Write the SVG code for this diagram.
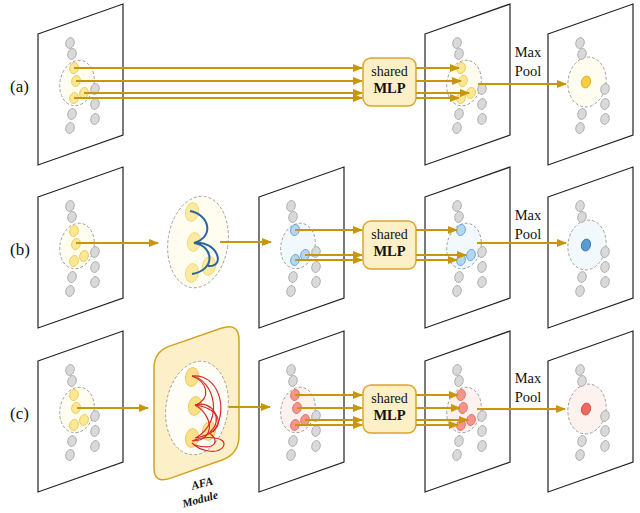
<svg xmlns="http://www.w3.org/2000/svg" xmlns:xlink="http://www.w3.org/1999/xlink" width="640" height="513" viewBox="0 0 640 513">
<style>
.panel{fill:#fff;stroke:#222;stroke-width:1.2}
.gd{fill:#d9d9d9;stroke:#a6a6a6;stroke-width:0.8}
.yd{fill:#fce794;stroke:#e8c650;stroke-width:0.8}
.bd{fill:#b4d7f1;stroke:#5b9bd5;stroke-width:0.8}
.rd{fill:#f5958c;stroke:#e06a60;stroke-width:0.8}
.ell{stroke:#9a9a9a;stroke-width:0.9;stroke-dasharray:3 2}
.ey{fill:#fffdf0}.eb{fill:#f2f9fd}.er{fill:#fdf2ee}
.mlp{fill:#fdefc6;stroke:#d9a72a;stroke-width:1.5}
.t{font-family:"Liberation Serif","Times New Roman",serif;fill:#111}
.conn line{stroke:#c8960c;stroke-width:2;marker-end:url(#ah)}
.blue path{fill:none;stroke:#2a65a0;stroke-width:2}
.red path{fill:none;stroke:#d42a2a;stroke-width:1.2}
</style>
<defs>
<marker id="ah" markerWidth="10" markerHeight="8" refX="9" refY="4" orient="auto" markerUnits="userSpaceOnUse"><path d="M0,0 L10,4 L0,8 Z" fill="#c8960c"/></marker>
<path id="pp" class="panel" d="M0,30 L85,0 L85,131 L0,161 Z"/>
<g id="grey" class="gd">
<ellipse cx="32" cy="39" rx="4.2" ry="5.5" transform="rotate(15 32 39)"/>
<ellipse cx="34" cy="50" rx="4.2" ry="5.5" transform="rotate(15 34 50)"/>
<ellipse cx="57" cy="85" rx="4.2" ry="5.5" transform="rotate(15 57 85)"/>
<ellipse cx="57" cy="100" rx="4.2" ry="5.5" transform="rotate(15 57 100)"/>
<ellipse cx="57" cy="115" rx="4.2" ry="5.5" transform="rotate(15 57 115)"/>
<ellipse cx="34" cy="110" rx="4.2" ry="5.5" transform="rotate(15 34 110)"/>
<ellipse cx="32" cy="124" rx="4.2" ry="5.5" transform="rotate(15 32 124)"/>
</g>
<g id="four">
<ellipse cx="36" cy="64" rx="4.3" ry="5.6" transform="rotate(15 36 64)"/>
<ellipse cx="38" cy="77" rx="4.3" ry="5.6" transform="rotate(15 38 77)"/>
<ellipse cx="36" cy="94" rx="4.3" ry="5.6" transform="rotate(15 36 94)"/>
<ellipse cx="46" cy="89" rx="4.3" ry="5.6" transform="rotate(15 46 89)"/>
</g>
<g id="three">
<ellipse cx="36" cy="63" rx="4.3" ry="5.6" transform="rotate(15 36 63)"/>
<ellipse cx="36" cy="93" rx="4.3" ry="5.6" transform="rotate(15 36 93)"/>
<ellipse cx="46" cy="88" rx="4.3" ry="5.6" transform="rotate(15 46 88)"/>
</g>
<ellipse id="sel" cx="39" cy="79" rx="17" ry="23" transform="rotate(12 39 79)"/>
<ellipse id="bel" cx="39" cy="78" rx="19" ry="25" transform="rotate(8 39 78)"/>
<ellipse id="cdot" cx="38" cy="78" rx="4.5" ry="6" transform="rotate(15 38 78)"/>
</defs>

<g id="labels" class="t" font-size="17">
<text x="10" y="92">(a)</text>
<text x="10" y="255">(b)</text>
<text x="10" y="419">(c)</text>
</g>

<!-- Row a -->
<g id="a1" transform="translate(38,4)"><use xlink:href="#pp"/><use xlink:href="#sel" class="ell ey"/><use xlink:href="#grey"/><use xlink:href="#four" class="yd"/></g>
<g id="a3" transform="translate(425,4)"><use xlink:href="#pp"/><use xlink:href="#sel" class="ell ey"/><use xlink:href="#grey"/><use xlink:href="#four" class="yd"/></g>
<g id="a4" transform="translate(548,4)"><use xlink:href="#pp"/><use xlink:href="#bel" class="ell ey"/><use xlink:href="#grey"/><use xlink:href="#cdot" fill="#f7cc45" stroke="#d9a520" stroke-width="0.8"/></g>
<g id="mlp-a"><rect class="mlp" x="363" y="58" width="53" height="48" rx="8"/><text class="t" x="389.5" y="76" font-size="14" text-anchor="middle">shared</text><text class="t" x="389.5" y="93" font-size="14.5" font-weight="bold" text-anchor="middle">MLP</text></g>
<g id="pool-a" class="t" font-size="14.5" text-anchor="middle"><text x="528" y="57">Max</text><text x="528" y="76">Pool</text></g>

<!-- Row b -->
<g id="b1" transform="translate(38,167)"><use xlink:href="#pp"/><use xlink:href="#sel" class="ell ey"/><use xlink:href="#grey"/><use xlink:href="#four" class="yd"/></g>
<g id="b-group">
<ellipse class="ell ey" cx="198" cy="242" rx="30" ry="46" transform="rotate(8 198 242)"/>
<g style="fill:#fcea9e;stroke:#efd27a;stroke-width:0.8">
<ellipse cx="192" cy="212" rx="6.5" ry="9.5" transform="rotate(10 192 212)"/>
<ellipse cx="194" cy="242" rx="6.5" ry="9.5" transform="rotate(10 194 242)"/>
<ellipse cx="192" cy="273" rx="6.5" ry="9.5" transform="rotate(10 192 273)"/>
<ellipse cx="209" cy="266" rx="6.5" ry="9.5" transform="rotate(10 209 266)"/>
</g>
<g class="blue">
<path d="M190,211 C208,214 216,236 194,243"/>
<path d="M194,243 C214,246 216,270 192,274"/>
<path d="M194,243 C218,240 226,268 208,266"/>
</g>
</g>
<g id="b2" transform="translate(259,167)"><use xlink:href="#pp"/><use xlink:href="#sel" class="ell eb"/><use xlink:href="#grey"/><use xlink:href="#three" class="bd"/></g>
<g id="b3" transform="translate(425,167)"><use xlink:href="#pp"/><use xlink:href="#sel" class="ell eb"/><use xlink:href="#grey"/><use xlink:href="#three" class="bd"/></g>
<g id="b4" transform="translate(548,167)"><use xlink:href="#pp"/><use xlink:href="#bel" class="ell eb"/><use xlink:href="#grey"/><use xlink:href="#cdot" fill="#5b9bd5" stroke="#2e6ca8" stroke-width="0.8"/></g>
<g id="mlp-b"><rect class="mlp" x="363" y="221" width="53" height="48" rx="8"/><text class="t" x="389.5" y="239" font-size="14" text-anchor="middle">shared</text><text class="t" x="389.5" y="256" font-size="14.5" font-weight="bold" text-anchor="middle">MLP</text></g>
<g id="pool-b" class="t" font-size="14.5" text-anchor="middle"><text x="528" y="220">Max</text><text x="528" y="239">Pool</text></g>

<!-- Row c -->
<g id="c1" transform="translate(38,331)"><use xlink:href="#pp"/><use xlink:href="#sel" class="ell ey"/><use xlink:href="#grey"/><use xlink:href="#four" class="yd"/></g>
<g id="afa">
<path d="M169,346.4 L221,328.3 Q239,322 239,340 L239,436 Q239,454 222,460 L170,478.4 Q154,484 154,468 L154,368 Q154,352 169,346.4 Z" fill="#fdf0c8" stroke="#d4a020" stroke-width="1.5"/>
<ellipse class="ell" fill="#fffef6" cx="197" cy="408" rx="31" ry="47" transform="rotate(8 197 408)"/>
<g style="fill:#fbe08a;stroke:#e8c24a;stroke-width:0.8">
<ellipse cx="192" cy="377" rx="6.5" ry="9.5" transform="rotate(10 192 377)"/>
<ellipse cx="195" cy="406" rx="6.5" ry="9.5" transform="rotate(10 195 406)"/>
<ellipse cx="192" cy="438" rx="6.5" ry="9.5" transform="rotate(10 192 438)"/>
<ellipse cx="209" cy="431" rx="6.5" ry="9.5" transform="rotate(10 209 431)"/>
</g>
<g class="red">
<path d="M192,376 C218,373 230,410 213,432"/>
<path d="M192,376 C214,380 225,420 196,438"/>
<path d="M192,376 C208,382 211,398 196,405"/>
<path d="M195,405 C213,400 224,420 210,432"/>
<path d="M195,405 C222,408 230,432 195,438"/>
<path d="M195,405 C213,415 216,440 193,441"/>
<path d="M192,441 C206,435 229,437 223,447 C217,455 200,451 192,443"/>
<path d="M208,432 C221,440 216,451 195,445"/>
</g>
<text class="t" font-size="11.5" font-weight="bold" font-style="italic" text-anchor="middle" transform="translate(203,487) rotate(-15)">AFA</text>
<text class="t" font-size="11.5" font-weight="bold" font-style="italic" text-anchor="middle" transform="translate(201,503) rotate(-15)">Module</text>
</g>
<g id="c2" transform="translate(259,331)"><use xlink:href="#pp"/><use xlink:href="#sel" class="ell er"/><use xlink:href="#grey"/><use xlink:href="#four" class="rd"/></g>
<g id="c3" transform="translate(425,331)"><use xlink:href="#pp"/><use xlink:href="#sel" class="ell er"/><use xlink:href="#grey"/><use xlink:href="#four" class="rd"/></g>
<g id="c4" transform="translate(548,331)"><use xlink:href="#pp"/><use xlink:href="#bel" class="ell er"/><use xlink:href="#grey"/><use xlink:href="#cdot" fill="#ee6a5f" stroke="#d04040" stroke-width="0.8"/></g>
<g id="mlp-c"><rect class="mlp" x="363" y="385" width="53" height="48" rx="8"/><text class="t" x="389.5" y="403" font-size="14" text-anchor="middle">shared</text><text class="t" x="389.5" y="420" font-size="14.5" font-weight="bold" text-anchor="middle">MLP</text></g>
<g id="pool-c" class="t" font-size="14.5" text-anchor="middle"><text x="528" y="383">Max</text><text x="528" y="402">Pool</text></g>

<g id="connectors" class="conn">
<line x1="74" y1="68" x2="362" y2="68"/>
<line x1="76" y1="81" x2="362" y2="81"/>
<line x1="84" y1="93" x2="362" y2="93"/>
<line x1="74" y1="98" x2="362" y2="98"/>
<line x1="416" y1="68" x2="459" y2="68"/>
<line x1="416" y1="81" x2="461" y2="81"/>
<line x1="416" y1="93" x2="469" y2="93"/>
<line x1="416" y1="98" x2="459" y2="98"/>
<line x1="478" y1="84" x2="566" y2="84"/>

<line x1="76" y1="243" x2="158" y2="243"/>
<line x1="220" y1="242" x2="271" y2="242"/>
<line x1="295" y1="230" x2="362" y2="230"/>
<line x1="305" y1="255" x2="362" y2="255"/>
<line x1="295" y1="260" x2="362" y2="260"/>
<line x1="416" y1="230" x2="457" y2="230"/>
<line x1="416" y1="255" x2="466" y2="255"/>
<line x1="416" y1="260" x2="457" y2="260"/>
<line x1="477" y1="243" x2="566" y2="243"/>

<line x1="77" y1="408" x2="148" y2="408"/>
<line x1="229" y1="407" x2="270" y2="407"/>
<line x1="295" y1="395" x2="362" y2="395"/>
<line x1="297" y1="408" x2="362" y2="408"/>
<line x1="305" y1="420" x2="362" y2="420"/>
<line x1="295" y1="425" x2="362" y2="425"/>
<line x1="416" y1="395" x2="458" y2="395"/>
<line x1="416" y1="408" x2="460" y2="408"/>
<line x1="416" y1="420" x2="468" y2="420"/>
<line x1="416" y1="425" x2="458" y2="425"/>
<line x1="477" y1="409" x2="565" y2="409"/>
</g>
</svg>
